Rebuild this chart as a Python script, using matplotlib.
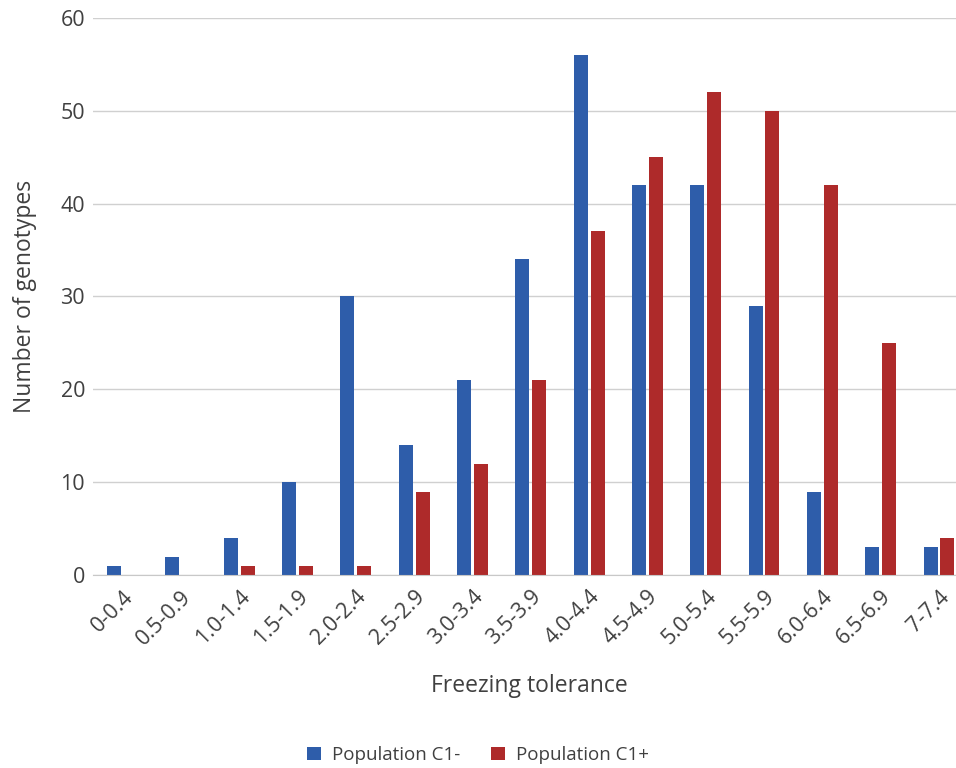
import matplotlib
matplotlib.use("Agg")
import matplotlib.pyplot as plt
import numpy as np

categories = ["0-0.4", "0.5-0.9", "1.0-1.4", "1.5-1.9", "2.0-2.4", "2.5-2.9", "3.0-3.4",
              "3.5-3.9", "4.0-4.4", "4.5-4.9", "5.0-5.4", "5.5-5.9", "6.0-6.4", "6.5-6.9", "7-7.4"]
c1_minus = [1, 2, 4, 10, 30, 14, 21, 34, 56, 42, 42, 29, 9, 3, 3]
c1_plus = [0, 0, 1, 1, 1, 9, 12, 21, 37, 45, 52, 50, 42, 25, 4]

plt.rcParams['font.family'] = ['Open Sans', 'DejaVu Sans']
fig = plt.figure(figsize=(9.56, 7.68), dpi=100)
ax = fig.add_axes([0.0977, 0.251, 0.915, 0.726])

x = np.arange(len(categories))
w = 0.24
gap = 0.025
ax.bar(x - w/2 - gap, c1_minus, width=w, color="#2E5DAA", label="Population C1-")
ax.bar(x + w/2 + gap, c1_plus, width=w, color="#AE2A2A", label="Population C1+")

ax.set_xlim(-0.5, len(categories) - 0.5)
ax.set_ylim(0, 60)
ax.set_yticks(range(0, 61, 10))
ax.yaxis.grid(True, color="#D0D0D0", linewidth=1)
ax.set_axisbelow(True)
for s in ["top", "right", "left"]:
    ax.spines[s].set_visible(False)
ax.spines["bottom"].set_color("#C8C8C8")
ax.tick_params(axis="both", length=0, labelsize=15.5, colors="#404040")
ax.tick_params(axis="y", pad=6)
ax.set_xticks(x)
ax.set_xticklabels(categories, rotation=45, ha="right", rotation_mode="anchor")
ax.tick_params(axis="x", pad=8)
ax.set_xlabel("Freezing tolerance", fontsize=16.5, color="#404040")
ax.set_ylabel("Number of genotypes", fontsize=16.5, color="#404040")
ax.xaxis.set_label_coords(0.5 * 0.0 + (530 - 93.4) / 875, -0.199)
ax.xaxis.label.set_va("center")
ax.yaxis.set_label_coords(-(93.4 - 25) / 875, 0.5)
ax.yaxis.label.set_va("center")

fig.legend(loc="center", bbox_to_anchor=(0.5, 0.017), ncol=2, frameon=False,
           fontsize=13.5, handlelength=0.75, handleheight=0.75, columnspacing=1.6,
           handletextpad=0.6, labelcolor="#404040")

fig.savefig("out.png", dpi=100)
